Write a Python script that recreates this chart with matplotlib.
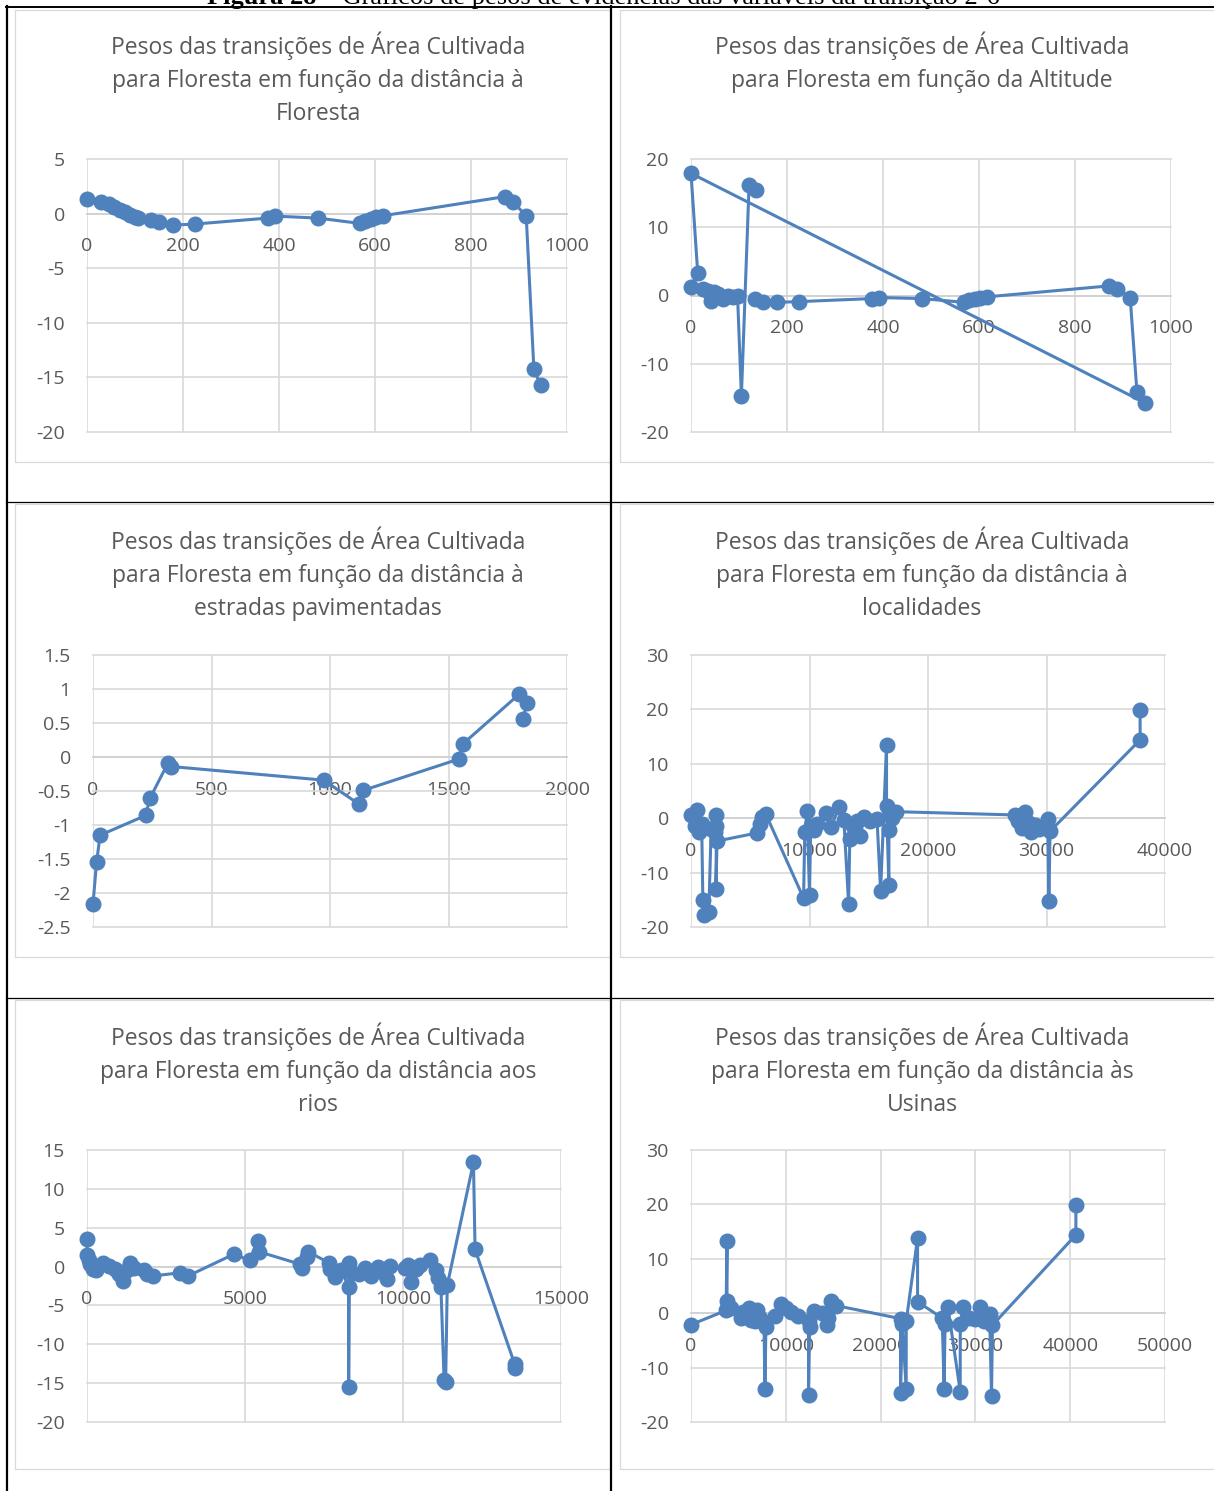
import matplotlib
matplotlib.use("Agg")
import matplotlib.pyplot as plt
from matplotlib.lines import Line2D
from matplotlib.patches import Rectangle
from matplotlib.ticker import FuncFormatter

W, H = 1214, 1491
plt.rcParams['font.family'] = ['Open Sans', 'DejaVu Sans']

# ---------------- data ----------------
floresta_x = [0, 30, 45, 57, 68, 79, 90, 99, 106, 134, 151, 179, 224, 377, 391, 481, 569, 580, 591, 602, 616, 870, 887, 915, 931, 945]
floresta_y = [1.33, 1.09, 0.84, 0.57, 0.35, 0.11, -0.13, -0.32, -0.44, -0.59, -0.81, -1.05, -0.96, -0.41, -0.23, -0.41, -0.90, -0.65, -0.50, -0.35, -0.20, 1.55, 1.09, -0.20, -14.25, -15.70]

altitude_x = [134, 151, 179, 224, 377, 391, 481, 569, 580, 591, 602, 616, 870, 887, 915, 929, 945, 0, 14, 0, 26, 35, 42, 48, 56, 66, 78, 88, 97, 105, 121, 136]
altitude_y = [-0.5, -0.9, -1.0, -0.9, -0.45, -0.3, -0.45, -1.0, -0.7, -0.5, -0.35, -0.2, 1.4, 1.0, -0.3, -14.1, -15.7, 17.9, 3.3, 1.3, 0.9, 0.6, -0.8, 0.5, 0.2, -0.5, 0.0, -0.2, -0.1, -14.7, 16.2, 15.5]

estradas_x = [0, 15, 30, 222, 240, 316, 330, 973, 1121, 1141, 1544, 1560, 1797, 1830, 1815]
estradas_y = [-2.16, -1.55, -1.15, -0.86, -0.61, -0.09, -0.14, -0.34, -0.69, -0.49, -0.03, 0.19, 0.92, 0.79, 0.56]

localidades_x = [0, 300, 500, 700, 900, 1000, 1100, 1500, 1700, 2000, 2100, 2150, 2100, 2200, 5600, 5800, 6000, 6300,
                 9500, 9600, 9800, 10000, 10100, 10400, 10600, 11400, 11800, 12500, 12900, 13300, 13400, 13700, 14000,
                 14300, 14600, 15100, 15700, 16000, 16500, 16500, 16700, 16700, 17000, 17300, 27300, 27600, 27900,
                 28200, 28500, 28700, 29000, 29400, 30100, 30200, 30300, 37900, 37900]
localidades_y = [0.5, -1.5, 1.5, -2.5, -1.0, -15.0, -17.8, -17.3, -2.0, -2.5, 0.5, -1.4, -13.1, -4.2, -2.7, -1.0, 0.3, 0.8,
                 -14.7, -2.5, 1.3, -14.1, -1.5, -2.2, -1.0, 1.0, -1.7, 2.1, -0.3, -15.7, -3.9, -1.5, -0.5,
                 -3.3, 0.3, -0.5, -0.2, -13.4, 13.4, 2.2, -12.2, -2.2, 0.0, 1.2, 0.6, -0.5, -1.8,
                 1.1, -0.8, -2.6, -1.2, -2.0, -0.2, -15.2, -2.4, 14.4, 19.8]

rios_x = [0, 0, 50, 100, 200, 300, 500, 700, 900, 1000, 1150, 1250, 1370, 1500, 1800, 1900, 2100, 2950, 3200, 4650,
          5150, 5400, 5450, 6750, 6800, 6950, 7000, 7650, 7700, 7850, 8050, 8280, 8280, 8300, 8400, 8600, 8800, 9000,
          9200, 9400, 9500, 9600, 10050, 10150, 10250, 10400, 10550, 10850, 11050, 11100, 11200, 11300, 11350, 11400,
          12230, 12280, 13530, 13530]
rios_y = [3.6, 1.5, 0.9, 0.3, -0.3, -0.5, 0.4, 0.1, -0.3, -0.9, -1.9, -0.5, 0.5, -0.2, -0.4, -0.9, -1.2, -0.8, -1.2, 1.6,
          0.8, 3.3, 1.9, 0.3, -0.2, 1.2, 1.9, 0.5, -0.3, -1.3, -0.5, -2.6, -15.5, 0.5, -0.8, -1.0, -0.2, -1.2,
          0.0, -0.8, -1.6, 0.1, -0.2, 0.2, -2.0, -0.3, 0.2, 0.9, -0.5, -1.5, -2.6, -14.6, -14.8, -2.4,
          13.4, 2.2, -12.5, -13.1]

usinas_x = [0, 3700, 3800, 3800, 3900, 4200, 5300, 5500, 6100, 6300, 6700, 7000, 7300, 7700, 7800, 7900, 8900, 9500,
            10000, 10600, 11300, 12400, 12400, 12500, 13000, 13800, 14300, 14400, 14800, 15300, 22100, 22100, 22300,
            22700, 22700, 23900, 23900, 26500, 26700, 26800, 27100, 28400, 28400, 28700, 29300, 30000, 30500, 30900,
            31500, 31700, 31800, 40600, 40600]
usinas_y = [-2.1, 0.5, 13.2, 2.3, 1.3, 1.0, -0.9, 0.3, 0.9, -1.2, -1.5, 0.5, -0.8, -1.8, -14.0, -2.6, -0.5, 1.6,
            1.0, 0.2, -0.5, -1.4, -15.1, -2.5, 0.4, 0.0, -2.2, -0.9, 2.3, 1.4, -1.0, -14.7, -2.0,
            -14.0, -1.5, 13.8, 2.1, -0.9, -14.0, -2.0, 1.2, -14.4, -2.0, 1.2, -0.8, -1.0, 1.2, -1.5,
            -0.2, -15.2, -2.2, 14.4, 19.9]

titles = [
    ["Pesos das transições de Área Cultivada", "para Floresta em função da distância à", "Floresta"],
    ["Pesos das transições de Área Cultivada", "para Floresta em função da Altitude"],
    ["Pesos das transições de Área Cultivada", "para Floresta em função da distância à", "estradas pavimentadas"],
    ["Pesos das transições de Área Cultivada", "para Floresta em função da distância à", "localidades"],
    ["Pesos das transições de Área Cultivada", "para Floresta em função da distância aos", "rios"],
    ["Pesos das transições de Área Cultivada", "para Floresta em função da distância às", "Usinas"],
]

xticks_list = [list(range(0, 1001, 200)), list(range(0, 1001, 200)), list(range(0, 2001, 500)),
               list(range(0, 40001, 10000)), list(range(0, 15001, 5000)), list(range(0, 50001, 10000))]
yticks_list = [list(range(-20, 6, 5)), list(range(-20, 21, 10)), [-2.5, -2, -1.5, -1, -0.5, 0, 0.5, 1, 1.5],
               list(range(-20, 31, 10)), list(range(-20, 16, 5)), list(range(-20, 31, 10))]

series = [(floresta_x, floresta_y), (altitude_x, altitude_y), (estradas_x, estradas_y),
          (localidades_x, localidades_y), (rios_x, rios_y), (usinas_x, usinas_y)]

# ---------------- layout (pixels) ----------------
plot_boxes = [(87, 159, 567, 432), (691, 159, 1171, 432),
              (93, 655, 567, 927), (691, 655, 1165, 927),
              (87, 1150, 561, 1422), (691, 1150, 1165, 1422)]
title_base = [54, 54, 549, 549, 1045, 1045]
title_cx = [318, 922, 318, 922, 318, 922]

fig = plt.figure(figsize=(W / 100, H / 100), dpi=100)

def fx(x):
    return x / W

def fy(y):
    return 1 - y / H

# table lines
black = '#000000'
fig.add_artist(Line2D([fx(7), fx(7)], [fy(6), fy(1491)], color=black, lw=1.6))
fig.add_artist(Line2D([fx(611), fx(611)], [fy(6), fy(1491)], color=black, lw=1.6))
for yy, lw in [(7, 1.4), (502, 0.9), (998, 0.9)]:
    fig.add_artist(Line2D([fx(6), fx(1214)], [fy(yy), fy(yy)], color=black, lw=lw))

# chart frames
frame_rows = [(10, 462), (504, 957), (1000, 1469)]
for (y0, y1) in frame_rows:
    for (x0, x1) in [(15, 610), (620, 1230)]:
        fig.add_artist(Rectangle((fx(x0), fy(y1)), fx(x1) - fx(x0), fy(y0) - fy(y1),
                                 fill=False, edgecolor='#d9d9d9', lw=0.9))

# caption (cut at top of the page, as in the source)
fig.text(fx(316), fy(4), "Figura 28", ha='right', va='baseline', family='Liberation Serif',
         fontweight='bold', fontsize=19, color='black')
fig.text(fx(316), fy(4), " – Gráficos de pesos de evidências das variáveis da transição 2-6", ha='left',
         va='baseline', family='Liberation Serif', fontsize=19, color='black')

fmt = FuncFormatter(lambda v, p: ('%g' % v))
text_gray = '#595959'
grid_gray = '#d9d9d9'
blue = '#4f81bd'

for i in range(6):
    x0, y0, x1, y1 = plot_boxes[i]
    ax = fig.add_axes([fx(x0), fy(y1), fx(x1) - fx(x0), fy(y0) - fy(y1)])
    xt, yt = xticks_list[i], yticks_list[i]
    ax.set_xlim(xt[0], xt[-1])
    ax.set_ylim(yt[0], yt[-1])
    ax.set_xticks(xt)
    ax.set_yticks(yt)
    ax.xaxis.set_major_formatter(fmt)
    ax.yaxis.set_major_formatter(fmt)
    ax.grid(True, color=grid_gray, lw=1.2)
    ax.set_axisbelow(True)
    for gl in ax.get_xgridlines() + ax.get_ygridlines():
        gl.set_clip_on(False)
    for s in ['top', 'right', 'left']:
        ax.spines[s].set_visible(False)
    ax.spines['bottom'].set_position(('data', 0))
    ax.spines['bottom'].set_color('#d0d0d0')
    ax.spines['bottom'].set_linewidth(1.2)
    ax.tick_params(axis='x', length=0, pad=17, labelsize=14, labelcolor=text_gray)
    ax.tick_params(axis='y', length=0, pad=16, labelsize=14, labelcolor=text_gray)
    ax.patch.set_visible(False)
    xs, ys = series[i]
    ax.plot(xs, ys, color=blue, lw=2.2, marker='o', markersize=10.5, clip_on=False, zorder=3)
    for k, line in enumerate(titles[i]):
        fig.text(fx(title_cx[i]), fy(title_base[i] + 33 * k), line, ha='center', va='baseline',
                 fontsize=16.5, color=text_gray)

fig.savefig('out.png', dpi=100)
